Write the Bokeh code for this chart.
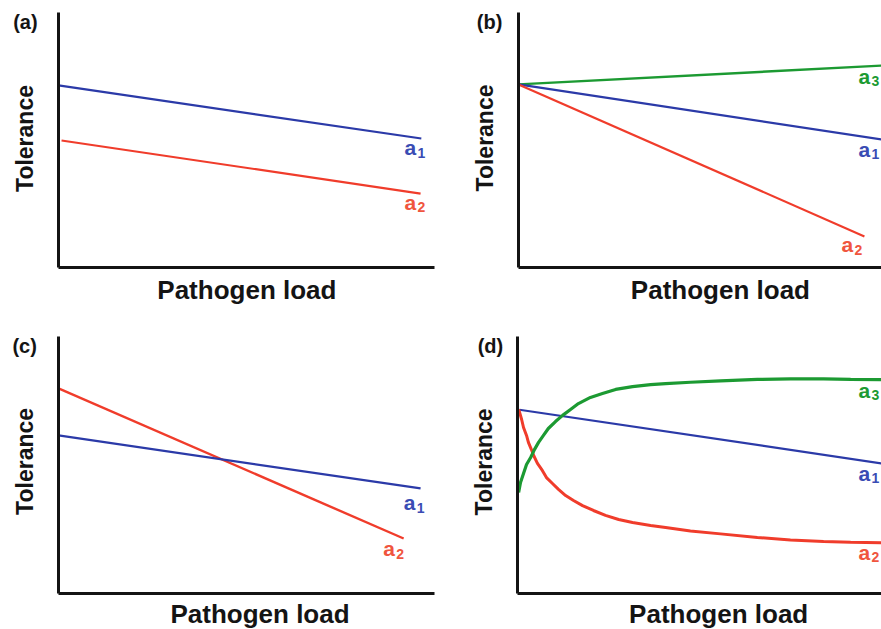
import math
from bokeh.plotting import figure
from bokeh.models import Range1d, FixedTicker, ColumnDataSource
from bokeh.layouts import column, row
from bokeh.core.properties import value
from bokeh.embed import file_html
from bokeh.resources import INLINE

# ---------------- data (x: pathogen load, y: tolerance, arbitrary units) ----------------
# panel (a)
a_x_a1 = [0.0, 9.65]
a_y_a1 = [7.14, 5.06]
a_x_a2 = [0.08, 9.63]
a_y_a2 = [4.98, 2.90]

# panel (b)
b_x_a3 = [0.0, 9.68]
b_y_a3 = [7.18, 7.92]
b_x_a1 = [0.0, 9.68]
b_y_a1 = [7.18, 5.02]
b_x_a2 = [0.0, 9.20]
b_y_a2 = [7.18, 1.22]

# panel (c)
c_x_a2 = [0.0, 9.18]
c_y_a2 = [7.98, 2.14]
c_x_a1 = [0.0, 9.63]
c_y_a1 = [6.15, 4.09]

# panel (d)
d_x_a1 = [0.05, 9.70]
d_y_a1 = [7.15, 5.06]
d_x_a2 = [0.03, 0.05, 0.11, 0.16, 0.24, 0.29, 0.37, 0.43, 0.53, 0.66, 0.77, 0.93, 1.09, 1.28,
          1.49, 1.73, 2.02, 2.34, 2.69, 3.06, 3.54, 3.94, 4.60, 5.40, 6.38, 7.26, 8.14, 8.86, 9.70]
d_y_a2 = [7.16, 7.08, 6.77, 6.46, 6.15, 5.88, 5.60, 5.37, 5.06, 4.79, 4.51, 4.28, 4.05, 3.81,
          3.62, 3.42, 3.23, 3.04, 2.88, 2.76, 2.65, 2.57, 2.43, 2.32, 2.18, 2.08, 2.02, 1.99, 1.97]
d_x_a3 = [0.03, 0.08, 0.16, 0.24, 0.35, 0.45, 0.56, 0.69, 0.82, 1.01, 1.20, 1.41, 1.62, 1.94,
          2.26, 2.61, 3.06, 3.54, 3.94, 4.60, 5.40, 6.38, 7.26, 8.14, 8.86, 9.70]
d_y_a3 = [3.93, 4.32, 4.67, 5.02, 5.29, 5.60, 5.88, 6.15, 6.42, 6.69, 6.93, 7.16, 7.39, 7.63,
          7.78, 7.94, 8.05, 8.13, 8.17, 8.22, 8.27, 8.33, 8.35, 8.35, 8.33, 8.32]

# series-name labels (position of the letter "a", subscript number)
a_lab_x = [9.20, 9.20]
a_lab_y = [4.70, 2.55]
a_lab_sub = ["1", "2"]
b_lab_x = [9.04, 9.04, 8.59]
b_lab_y = [7.50, 4.63, 0.90]
b_lab_sub = ["3", "1", "2"]
c_lab_x = [9.18, 8.64]
c_lab_y = [3.54, 1.75]
c_lab_sub = ["1", "2"]
d_lab_x = [9.07, 9.07, 9.07]
d_lab_y = [7.90, 4.67, 1.60]
d_lab_sub = ["3", "1", "2"]

panel_letters = ["(a)", "(b)", "(c)", "(d)"]
x_title = "Pathogen load"
y_title = "Tolerance"

# ---------------- styling ----------------
BLUE = "#2b3aa8"
BLUE_T = "#3a4cb4"
RED = "#f03c2b"
RED_T = "#f0553e"
GREEN = "#1c9a32"
AXIS = "#141414"
FONT = "Liberation Sans"
COLORS = {"1": BLUE_T, "2": RED_T, "3": GREEN}


def make_panel(width, height, xr, yr, xbound, ybound):
    p = figure(width=width, height=height, x_range=Range1d(*xr), y_range=Range1d(*yr),
               output_backend="svg", toolbar_location=None,
               min_border_left=0, min_border_right=0, min_border_top=0, min_border_bottom=0)
    p.outline_line_color = None
    p.grid.visible = False
    p.background_fill_color = "white"
    p.border_fill_color = "white"
    for ax in (p.xaxis[0], p.yaxis[0]):
        ax.ticker = FixedTicker(ticks=[])
        ax.fixed_location = 0
        ax.axis_line_width = 3
        ax.axis_line_color = AXIS
        ax.major_tick_line_color = None
        ax.minor_tick_line_color = None
        ax.major_tick_out = 0
        ax.major_tick_in = 0
        ax.major_label_standoff = 0
        ax.major_label_text_font_size = "0px"
    p.xaxis.bounds = xbound
    p.yaxis.bounds = ybound
    return p


def add_names(p, xs, ys, subs):
    src = ColumnDataSource(dict(x=xs, y=ys, a=["a"] * len(xs), sub=subs,
                                c=[COLORS[s] for s in subs]))
    p.text(x="x", y="y", text="a", source=src, text_color="c",
           text_font=value(FONT), text_font_style="bold", text_font_size="21px",
           text_align="left", text_baseline="middle")
    p.text(x="x", y="y", text="sub", source=src, text_color="c", x_offset=13, y_offset=5,
           text_font=value(FONT), text_font_style="bold", text_font_size="14px",
           text_align="left", text_baseline="middle")


def add_texts(p, letter, lx, ly, yx, yy, tx, ty):
    p.text(x=[lx], y=[ly], text=[letter], text_font=value(FONT), text_font_style="bold",
           text_font_size="20px", text_color=AXIS, text_align="center", text_baseline="middle")
    p.text(x=[yx], y=[yy], text=[y_title], angle=math.pi / 2, text_font=value(FONT),
           text_font_style="bold", text_font_size="23px", text_color=AXIS,
           text_align="center", text_baseline="middle")
    p.text(x=[tx], y=[ty], text=[x_title], text_font=value(FONT), text_font_style="bold",
           text_font_size="26px", text_color=AXIS, text_align="center", text_baseline="middle")


# panel (a)
pa = make_panel(440, 320, (-1.543, 10.160), (-2.078, 10.471), (0, 10.0), (0, 10.0))
pa.line(a_x_a1, a_y_a1, line_color=BLUE, line_width=2.2)
pa.line(a_x_a2, a_y_a2, line_color=RED, line_width=2.2)
add_names(pa, a_lab_x, a_lab_y, a_lab_sub)
add_texts(pa, panel_letters[0], -0.88, 9.61, -0.90, 5.06, 5.01, -0.90)

# panel (b)
pb = make_panel(441, 320, (-2.074, 9.654), (-2.078, 10.471), (0, 9.654), (0, 10.0))
pb.line(b_x_a3, b_y_a3, line_color=GREEN, line_width=2.4)
pb.line(b_x_a1, b_y_a1, line_color=BLUE, line_width=2.2)
pb.line(b_x_a2, b_y_a2, line_color=RED, line_width=2.2)
add_names(pb, b_lab_x, b_lab_y, b_lab_sub)
add_texts(pb, panel_letters[1], -0.77, 9.61, -0.90, 5.08, 5.37, -0.90)

# panel (c)
pc = make_panel(440, 309, (-1.543, 10.160), (-1.401, 10.623), (0, 10.0), (0, 10.0))
pc.line(c_x_a2, c_y_a2, line_color=RED, line_width=2.4)
pc.line(c_x_a1, c_y_a1, line_color=BLUE, line_width=2.2)
add_names(pc, c_lab_x, c_lab_y, c_lab_sub)
add_texts(pc, panel_letters[2], -0.90, 9.65, -0.90, 5.14, 5.36, -0.78)

# panel (d)
pd_ = make_panel(441, 309, (-2.048, 9.681), (-1.401, 10.623), (0, 9.681), (0, 10.0))
pd_.line(d_x_a1, d_y_a1, line_color=BLUE, line_width=2.2)
pd_.line(d_x_a2, d_y_a2, line_color=RED, line_width=3)
pd_.line(d_x_a3, d_y_a3, line_color=GREEN, line_width=3.2)
add_names(pd_, d_lab_x, d_lab_y, d_lab_sub)
add_texts(pd_, panel_letters[3], -0.72, 9.65, -0.90, 5.12, 5.35, -0.78)

layout = column(row(pa, pb), row(pc, pd_))

with open("out.html", "w") as f:
    f.write(file_html(layout, INLINE))
